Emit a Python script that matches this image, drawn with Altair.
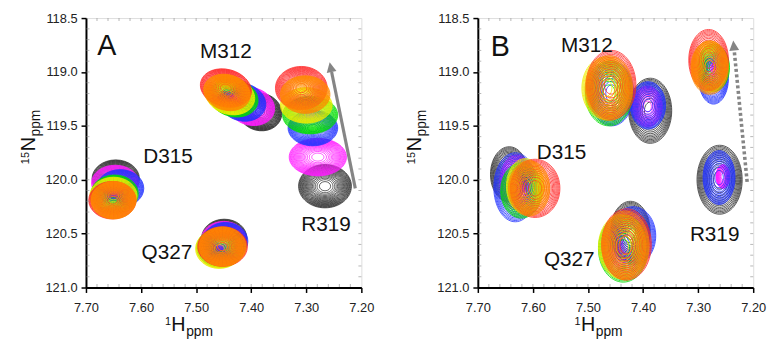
import altair as alt
import pandas as pd
import math

# ---------------- axes ----------------
X_DOMAIN = [7.20, 7.70]
Y_DOMAIN = [118.5, 121.0]
X_TICKS = [7.70, 7.60, 7.50, 7.40, 7.30, 7.20]
Y_TICKS = [118.5, 119.0, 119.5, 120.0, 120.5, 121.0]

STEPS = ["black", "magenta", "blue", "green", "yellow", "red", "orange"]
STEP_COLOR = {"black": "#2e2e2e", "magenta": "#ff1cff", "blue": "#2233ff",
              "green": "#00dd00", "yellow": "#eeee00", "red": "#ff2a2a",
              "orange": "#ff8a00"}

# ---------------- panel A peaks ----------------
A_RES = ["M312"] * 7 + ["D315"] * 7 + ["Q327"] * 7 + ["R319"] * 7
A_STEP = STEPS * 4
A_H = [7.384, 7.400, 7.416, 7.432, 7.438, 7.446, 7.444,
       7.646, 7.647, 7.638, 7.648, 7.650, 7.652, 7.650,
       7.449, 7.450, 7.447, 7.456, 7.458, 7.452, 7.452,
       7.266, 7.279, 7.288, 7.293, 7.300, 7.309, 7.302]
A_N = [119.37, 119.32, 119.28, 119.24, 119.22, 119.15, 119.19,
       119.99, 120.03, 120.08, 120.13, 120.15, 120.19, 120.19,
       120.54, 120.56, 120.57, 120.63, 120.64, 120.62, 120.62,
       120.06, 119.79, 119.52, 119.40, 119.31, 119.15, 119.21]
A_WH = [0.040, 0.043, 0.043, 0.045, 0.045, 0.047, 0.043,
        0.043, 0.043, 0.043, 0.043, 0.043, 0.043, 0.041,
        0.041, 0.041, 0.041, 0.043, 0.043, 0.045, 0.043,
        0.048, 0.052, 0.045, 0.050, 0.047, 0.047, 0.045]
A_WN = [0.174, 0.174, 0.174, 0.174, 0.174, 0.174, 0.165,
        0.174, 0.165, 0.174, 0.174, 0.174, 0.174, 0.174,
        0.174, 0.174, 0.174, 0.183, 0.183, 0.183, 0.183,
        0.201, 0.174, 0.165, 0.174, 0.165, 0.201, 0.174]
A_TILT = [15] * 7 + [0] * 21

A_LABELS = ["M312", "D315", "Q327", "R319"]
A_LAB_H = [7.446, 7.551, 7.553, 7.264]
A_LAB_N = [118.82, 119.79, 120.68, 120.42]
A_ARROW_H = [7.211, 7.254]
A_ARROW_N = [120.08, 119.00]

# ---------------- panel B peaks ----------------
B_RES = (["M312"] * 8 + ["D315"] * 7 + ["Q327"] * 7 + ["R319"] * 9)
B_STEP = (["black", "magenta", "blue", "blue", "green", "yellow", "red", "orange"]
          + STEPS
          + ["black", "blue", "magenta", "green", "yellow", "red", "orange"]
          + ["black", "blue", "magenta", "blue", "magenta", "green", "yellow", "red", "orange"])
B_H = [7.387, 7.392, 7.391, 7.457, 7.462, 7.468, 7.458, 7.462,
       7.643, 7.630, 7.632, 7.621, 7.614, 7.596, 7.607,
       7.423, 7.418, 7.428, 7.436, 7.438, 7.430, 7.432,
       7.261, 7.262, 7.255, 7.272, 7.280, 7.272, 7.279, 7.281, 7.279]
B_N = [119.36, 119.32, 119.31, 119.20, 119.20, 119.15, 119.12, 119.15,
       119.95, 120.02, 120.07, 120.10, 120.06, 120.08, 120.08,
       120.48, 120.52, 120.58, 120.64, 120.62, 120.60, 120.61,
       120.00, 119.98, 119.97, 119.06, 119.00, 118.96, 118.95, 118.89, 118.96]
B_WH = [0.039, 0.027, 0.032, 0.040, 0.043, 0.043, 0.045, 0.043,
        0.034, 0.030, 0.039, 0.0375, 0.034, 0.045, 0.0375,
        0.036, 0.041, 0.036, 0.045, 0.043, 0.045, 0.043,
        0.041, 0.029, 0.0125, 0.027, 0.014, 0.029, 0.032, 0.036, 0.034]
B_WN = [0.302, 0.190, 0.220, 0.300, 0.300, 0.290, 0.320, 0.300,
        0.256, 0.250, 0.320, 0.256, 0.256, 0.270, 0.256,
        0.280, 0.270, 0.280, 0.310, 0.300, 0.330, 0.320,
        0.320, 0.250, 0.110, 0.238, 0.128, 0.220, 0.238, 0.284, 0.247]
B_TILT = [0] * len(B_H)

B_LABELS = ["M312", "D315", "Q327", "R319"]
B_LAB_H = [7.502, 7.548, 7.534, 7.270]
B_LAB_N = [118.76, 119.75, 120.75, 120.51]
B_ARROW_H = [7.211, 7.2345]
B_ARROW_N = [120.02, 118.80]

# ---------------- layout / style ----------------
W, H = 279, 273
PXX = W / (X_DOMAIN[1] - X_DOMAIN[0])
PXY = H / (Y_DOMAIN[1] - Y_DOMAIN[0])
FONT = "Liberation Sans"


def ellipse_path(a):
    k = 0.5523
    return (f"M 1 0 C 1 {k*a:.3f} {k:.3f} {a:.3f} 0 {a:.3f} "
            f"C {-k:.3f} {a:.3f} -1 {k*a:.3f} -1 0 "
            f"C -1 {-k*a:.3f} {-k:.3f} {-a:.3f} 0 {-a:.3f} "
            f"C {k:.3f} {-a:.3f} 1 {-k*a:.3f} 1 0 Z")


def contour_table(res, step, h, n, wh, wn, tilt, nlev):
    rows = []
    for i in range(len(h)):
        rx = wh[i] * PXX
        ry = wn[i] * PXY
        path = ellipse_path(ry / rx)
        si = STEPS.index(step[i])
        for k in range(nlev):
            f = math.sqrt(1 - k / nlev)
            rows.append({"res": res[i], "h": h[i], "n": n[i],
                         "size": (2 * rx * f) ** 2, "path": path,
                         "color": STEP_COLOR[step[i]], "tilt": tilt[i],
                         "ord": si * 10000 + i * 100 + k})
    return pd.DataFrame(rows)


xs = alt.Scale(domain=X_DOMAIN, reverse=True, nice=False, zero=False)
ys = alt.Scale(domain=Y_DOMAIN, reverse=True, nice=False, zero=False)

ax_common = dict(title=None, grid=False, domainColor="black", domainWidth=2,
                 tickColor="black", tickWidth=1.5, tickSize=5,
                 labelFontSize=13, labelColor="#222", labelFont=FONT,
                 labelOverlap=False, labelFlush=False)
x_axis = alt.Axis(values=X_TICKS, format=".2f", labelPadding=9, **ax_common)
y_axis = alt.Axis(values=Y_TICKS, format=".1f", labelPadding=4, **ax_common)

MINOR_X = [round(7.70 - 0.02 * i, 2) for i in range(1, 25)]
MINOR_Y = [round(118.5 + 0.1 * i, 1) for i in range(1, 25)]


def title_piece(text, px, py, fs, ang):
    return alt.Chart(pd.DataFrame({"t": [text]})).mark_text(
        align="left", baseline="alphabetic", fontSize=fs, font=FONT,
        color="#111", angle=ang).encode(
        text="t:N", x=alt.value(px), y=alt.value(py))


def panel(res, step, h, n, wh, wn, tilt, nlev, sw, lab, lab_h, lab_n,
          letter, letter_h, letter_n, arr_h, arr_n, head_angle, dashed,
          tx_dx, ty_dx):
    ct = contour_table(res, step, h, n, wh, wn, tilt, nlev)
    contours = alt.Chart(ct).mark_point(filled=False, strokeWidth=sw, opacity=1,
                                        clip=True).encode(
        x=alt.X("h:Q", scale=xs, axis=x_axis),
        y=alt.Y("n:Q", scale=ys, axis=y_axis),
        shape=alt.Shape("path:N", scale=None),
        size=alt.Size("size:Q", scale=None),
        color=alt.Color("color:N", scale=None),
        angle=alt.Angle("tilt:Q", scale=None),
        order=alt.Order("ord:Q"),
    )
    mx = alt.Chart(pd.DataFrame({"h": MINOR_X}))
    my = alt.Chart(pd.DataFrame({"n": MINOR_Y}))
    minor = (
        mx.mark_tick(color="#999", size=3, thickness=1).encode(
            x=alt.X("h:Q", scale=xs), y=alt.value(1.5))
        + mx.mark_tick(color="#999", size=3, thickness=1).encode(
            x=alt.X("h:Q", scale=xs), y=alt.value(H - 2))
        + my.mark_tick(color="#999", size=3, thickness=1).encode(
            y=alt.Y("n:Q", scale=ys), x=alt.value(2))
        + my.mark_tick(color="#999", size=3, thickness=1).encode(
            y=alt.Y("n:Q", scale=ys), x=alt.value(W - 1.5))
    )
    adf = pd.DataFrame({"h": arr_h, "n": arr_n, "i": [0, 1]})
    line_kw = dict(color="#858585", strokeWidth=3.2)
    if dashed:
        line_kw.update(strokeDash=[3, 2.6], strokeWidth=3.6, strokeCap="butt")
    arrow = alt.Chart(adf).mark_line(**line_kw).encode(
        x=alt.X("h:Q", scale=xs), y=alt.Y("n:Q", scale=ys), order="i:Q")
    head = alt.Chart(adf.iloc[[1]]).mark_point(
        shape="M 0 -1.6 L 0.8 0 L -0.8 0 Z", filled=True, size=156,
        color="#858585", opacity=1, angle=head_angle).encode(
        x=alt.X("h:Q", scale=xs), y=alt.Y("n:Q", scale=ys))
    ldf = pd.DataFrame({"t": lab, "h": lab_h, "n": lab_n})
    labels = alt.Chart(ldf).mark_text(fontSize=21, font=FONT, color="#111",
                                      baseline="middle", align="center").encode(
        x=alt.X("h:Q", scale=xs), y=alt.Y("n:Q", scale=ys), text="t:N")
    let = alt.Chart(pd.DataFrame({"t": [letter], "h": [letter_h], "n": [letter_n]})).mark_text(
        fontSize=29, font=FONT, color="#111", baseline="middle", align="center").encode(
        x=alt.X("h:Q", scale=xs), y=alt.Y("n:Q", scale=ys), text="t:N")
    titles = (
        title_piece("1", 80 + tx_dx, 311, 11, 0)
        + title_piece("H", 86.5 + tx_dx, 317, 20, 0)
        + title_piece("ppm", 101.5 + tx_dx, 322, 14, 0)
        + title_piece("15", -58 + ty_dx, 148, 11, 270)
        + title_piece("N", -52 + ty_dx, 135, 20, 270)
        + title_piece("ppm", -47 + ty_dx, 120, 14, 270)
    )
    return alt.layer(contours, minor, arrow, head, labels, let, titles).properties(
        width=W, height=H)


pA = panel(A_RES, A_STEP, A_H, A_N, A_WH, A_WN, A_TILT, 22, 0.75,
           A_LABELS, A_LAB_H, A_LAB_N, "A", 7.662, 118.76,
           A_ARROW_H, A_ARROW_N, 348.5, False, 0, 0)
pB = panel(B_RES, B_STEP, B_H, B_N, B_WH, B_WN, B_TILT, 14, 0.8,
           B_LABELS, B_LAB_H, B_LAB_N, "B", 7.659, 118.77,
           B_ARROW_H, B_ARROW_N, 354.3, True, 18, -6)

chart = alt.hconcat(pA, pB, spacing=118, bounds="flush").properties(
    padding={"left": 10, "top": 1, "right": 2, "bottom": 0}
).configure_view(stroke="black", strokeWidth=1.5).configure(background="white")

chart.save("out.html", embed_options={"renderer": "svg", "actions": False})
